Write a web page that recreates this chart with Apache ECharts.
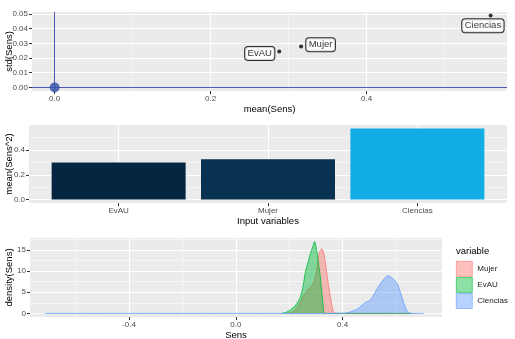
<!DOCTYPE html>
<html><head><meta charset="utf-8">
<script src="https://cdn.jsdelivr.net/npm/echarts@6/dist/echarts.min.js"></script>
<style>html,body{margin:0;padding:0;background:#fff}#c{width:515px;height:339px}</style>
</head><body><div id="c"></div>
<script>
// ---- Data ----
const variables = ['EvAU', 'Mujer', 'Ciencias'];
const meanSens = [0.288, 0.316, 0.559];
const stdSens = [0.0244, 0.0278, 0.0489];
const meanSens2 = [0.299, 0.325, 0.574];

const evauX = [0.17,0.19,0.205,0.222,0.241,0.252,0.260,0.270,0.279,0.288,0.295,0.300,0.306,0.311,0.316,0.321,0.326,0.331,0.34,0.66];
const evauY = [0,0.3,0.9,1.8,3.8,6.5,9.7,12,14.1,15.8,17.0,15.8,13.7,11.2,8.9,5.5,2.6,0,0,0];
const mujerX = [0.19,0.215,0.235,0.253,0.272,0.291,0.302,0.310,0.316,0.322,0.328,0.335,0.341,0.347,0.354,0.360,0.366,0.375,0.66];
const mujerY = [0,0.4,2.0,4.2,5.8,7.3,10.0,13.7,14.9,15.3,14.5,12.1,9.3,6.6,3.8,1.8,0.3,0,0];
const cienciasX = [-0.715,0.38,0.416,0.435,0.454,0.470,0.485,0.504,0.522,0.541,0.560,0.570,0.585,0.604,0.616,0.628,0.641,0.653,0.703];
const cienciasY = [0,0,0.1,0.5,1.0,1.8,2.6,3.2,5.0,7.0,8.5,8.9,8.4,7.0,5.0,2.6,0.6,0,0];

const topXTicks = [0, 0.2, 0.4];
const topYTicks = [0, 0.01, 0.02, 0.03, 0.04, 0.05];
const barYTicks = [0, 0.2, 0.4];
const densXTicks = [-0.4, 0, 0.4];
const densYTicks = [0, 5, 10, 15];

// ---- Styling ----
const FONT = 'Liberation Sans, Arial, sans-serif';
const BG = '#EBEBEB';
const pairs = (xs, ys) => xs.map((x, i) => [x, ys[i]]);

function axisCommon(ticks, fmt) {
  return {
    axisLine: {show: false, onZero: false},
    axisTick: {show: true, customValues: ticks, length: 3, lineStyle: {color: '#333', width: 1}},
    axisLabel: {customValues: ticks, formatter: fmt, color: '#4D4D4D', fontSize: 8, fontFamily: FONT, margin: 4},
    splitLine: {show: false},
    nameTextStyle: {color: '#000', fontSize: 9.5, fontFamily: FONT},
    nameLocation: 'middle'
  };
}

function gridSeries(idx, xMaj, xMin, yMaj, yMin) {
  const d = [];
  xMaj.forEach(v => d.push({xAxis: v, lineStyle: {color: '#fff', width: 1.1, type: 'solid'}}));
  xMin.forEach(v => d.push({xAxis: v, lineStyle: {color: '#fff', width: 0.5, type: 'solid'}}));
  yMaj.forEach(v => d.push({yAxis: v, lineStyle: {color: '#fff', width: 1.1, type: 'solid'}}));
  yMin.forEach(v => d.push({yAxis: v, lineStyle: {color: '#fff', width: 0.5, type: 'solid'}}));
  return {type: 'line', xAxisIndex: idx, yAxisIndex: idx, data: [], z: 1, silent: true,
    markLine: {z: 1, silent: true, symbol: 'none', label: {show: false}, animation: false, data: d}};
}

const labelOffsets = [[-19.5, 2], [19.5, -1.7], [-7.7, 10.3]];
const scatterData = variables.map((v, i) => ({
  value: [meanSens[i], stdSens[i]], name: v,
  label: {show: true, formatter: v, position: 'inside', offset: labelOffsets[i],
    backgroundColor: '#fff', borderColor: '#000', borderWidth: 1, borderRadius: 3,
    padding: [2, 2.5, 1, 2.5], color: '#000', fontSize: 9.5, fontFamily: FONT}
}));

const barColors = ['#062540', '#08324F', '#13ADE5'];
const barData = variables.map((v, i) => ({value: [i + 1, meanSens2[i]], itemStyle: {color: barColors[i]}}));

const dens = [
  {name: 'Mujer', x: mujerX, y: mujerY, c: '#F8766D', a: 'rgba(248,118,109,0.45)'},
  {name: 'EvAU', x: evauX, y: evauY, c: '#00BA38', a: 'rgba(0,186,56,0.45)'},
  {name: 'Ciencias', x: cienciasX, y: cienciasY, c: '#619CFF', a: 'rgba(97,156,255,0.45)'}
];

const gridBase = {show: true, backgroundColor: BG, borderWidth: 0, containLabel: false, outerBoundsMode: 'none'};

const chart = echarts.init(document.getElementById('c'), null, {renderer: 'canvas'});
chart.setOption({
  animation: false,
  textStyle: {fontFamily: FONT},
  title: {text: 'variable', left: 456, top: 246, padding: 0,
    textStyle: {fontSize: 9.5, fontWeight: 'normal', color: '#000', fontFamily: FONT}},
  legend: {
    data: dens.map(d => ({name: d.name, itemStyle: {color: d.a, borderColor: d.c, borderWidth: 0.6}})),
    orient: 'vertical', left: 456, top: 261, padding: 0, itemGap: 0.5,
    itemWidth: 16, itemHeight: 15, icon: 'rect',
    textStyle: {fontSize: 8, color: '#1a1a1a', fontFamily: FONT}, selectedMode: false
  },
  grid: [
    Object.assign({left: 32, top: 12, width: 475, height: 79}, gridBase),
    Object.assign({left: 29, top: 125, width: 478, height: 78}, gridBase),
    Object.assign({left: 30, top: 238, width: 412, height: 79}, gridBase)
  ],
  xAxis: [
    Object.assign(axisCommon(topXTicks, v => v.toFixed(1)), {type: 'value', gridIndex: 0, min: -0.029, max: 0.580, name: 'mean(Sens)', nameGap: 12}),
    Object.assign(axisCommon([1, 2, 3], v => variables[Math.round(v) - 1] || ''), {type: 'value', gridIndex: 1, min: 0.4, max: 3.6, name: 'Input variables', nameGap: 12.5}),
    Object.assign(axisCommon(densXTicks, v => v.toFixed(1)), {type: 'value', gridIndex: 2, min: -0.771, max: 0.772, name: 'Sens', nameGap: 12})
  ],
  yAxis: [
    Object.assign(axisCommon(topYTicks, v => v.toFixed(2)), {type: 'value', gridIndex: 0, min: -0.00245, max: 0.0513, name: 'std(Sens)', nameGap: 18, nameMoveOverlap: false}),
    Object.assign(axisCommon(barYTicks, v => v.toFixed(1)), {type: 'value', gridIndex: 1, min: -0.0287, max: 0.603, name: 'mean(Sens^2)', nameGap: 15, nameMoveOverlap: false}),
    Object.assign(axisCommon(densYTicks, v => String(v)), {type: 'value', gridIndex: 2, min: -0.85, max: 17.85, name: 'density(Sens)', nameGap: 16, nameMoveOverlap: false})
  ],
  series: [
    gridSeries(0, [0, 0.2, 0.4], [0.1, 0.3, 0.5], topYTicks, [0.005, 0.015, 0.025, 0.035, 0.045]),
    gridSeries(1, [1, 2, 3], [], barYTicks, [0.1, 0.3, 0.5]),
    gridSeries(2, densXTicks, [-0.6, -0.2, 0.2, 0.6], densYTicks, [2.5, 7.5, 12.5, 17.5]),
    {type: 'scatter', xAxisIndex: 0, yAxisIndex: 0, z: 2, symbolSize: 0.1, data: [],
      markLine: {z: 2, silent: true, symbol: 'none', label: {show: false}, animation: false,
        lineStyle: {color: '#4A5AB8', width: 1, type: 'solid'},
        data: [{xAxis: 0}, {yAxis: 0}]}},
    {type: 'scatter', xAxisIndex: 0, yAxisIndex: 0, z: 3, symbolSize: 10, itemStyle: {color: '#2F4FA6'},
      data: [[0, 0]]},
    {type: 'scatter', xAxisIndex: 0, yAxisIndex: 0, z: 4, symbolSize: 4, itemStyle: {color: '#000'},
      data: scatterData},
    {type: 'bar', xAxisIndex: 1, yAxisIndex: 1, z: 3, barWidth: 134, data: barData},
    ...dens.map((d, i) => ({
      type: 'line', name: d.name, xAxisIndex: 2, yAxisIndex: 2, z: 3 + i,
      showSymbol: false, symbol: 'none', smooth: 0.3,
      lineStyle: {color: d.c, width: 0.8}, itemStyle: {color: d.a, borderColor: d.c},
      areaStyle: {color: d.a, opacity: 1},
      data: pairs(d.x, d.y)
    }))
  ]
});
</script>
</body></html>
